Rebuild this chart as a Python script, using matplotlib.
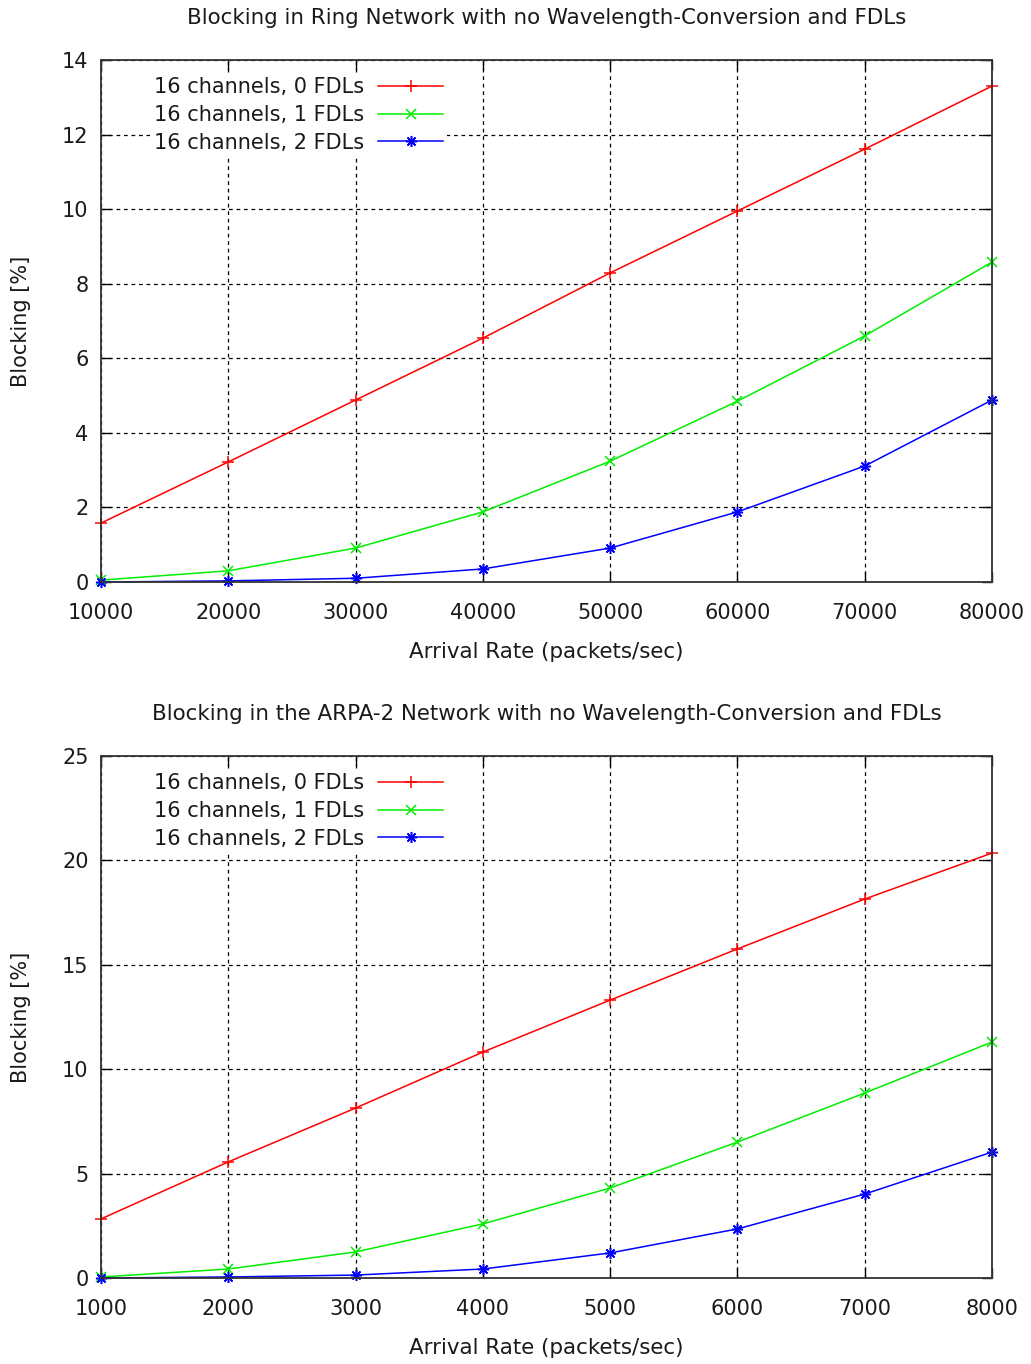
import matplotlib
matplotlib.use("Agg")
import matplotlib.pyplot as plt

plt.rcParams['font.family'] = ['DejaVu Sans']

# Top chart: Ring network
ring_x = [10000, 20000, 30000, 40000, 50000, 60000, 70000, 80000]
ring_0fdl = [1.58, 3.22, 4.88, 6.54, 8.29, 9.95, 11.61, 13.30]
ring_1fdl = [0.05, 0.30, 0.91, 1.88, 3.24, 4.85, 6.60, 8.58]
ring_2fdl = [0.00, 0.03, 0.10, 0.35, 0.91, 1.88, 3.11, 4.88]

# Bottom chart: ARPA-2 network
arpa_x = [1000, 2000, 3000, 4000, 5000, 6000, 7000, 8000]
arpa_0fdl = [2.83, 5.56, 8.14, 10.82, 13.31, 15.76, 18.15, 20.35]
arpa_1fdl = [0.05, 0.43, 1.25, 2.59, 4.31, 6.51, 8.86, 11.30]
arpa_2fdl = [0.00, 0.05, 0.14, 0.43, 1.20, 2.35, 4.02, 6.03]

labels = ["16 channels, 0 FDLs", "16 channels, 1 FDLs", "16 channels, 2 FDLs"]
titles = ["Blocking in Ring Network with no Wavelength-Conversion and FDLs",
          "Blocking in the ARPA-2 Network with no Wavelength-Conversion and FDLs"]

W, H = 1031, 1364
fig = plt.figure(figsize=(W / 100, H / 100), dpi=100)

FS = 15
TFS = 15.4
TXT = '#1a1a1a'

def make_axes(top_px, bottom_px):
    left, right = 101, 992
    return fig.add_axes([left / W, 1 - bottom_px / H, (right - left) / W, (bottom_px - top_px) / H])

specs = [
    (make_axes(60, 582), ring_x, [ring_0fdl, ring_1fdl, ring_2fdl], (0, 14), list(range(0, 15, 2)), titles[0], 60),
    (make_axes(756, 1278), arpa_x, [arpa_0fdl, arpa_1fdl, arpa_2fdl], (0, 25), list(range(0, 26, 5)), titles[1], 756),
]

colors = ['#ff0000', '#00ee00', '#0000ff']
markers = ['+', 'x', (8, 2, 0)]
msizes = [9, 7, 8]

for ax, xs, series, ylim, yticks, title, top_px in specs:
    for ys, c, m, ms, lab in zip(series, colors, markers, msizes, labels):
        ax.plot(xs, ys, color=c, marker=m, markersize=ms, markeredgewidth=1.1,
                linewidth=1.1, label=lab, zorder=3, clip_on=False)
    ax.set_xlim(xs[0], xs[-1])
    ax.set_ylim(*ylim)
    ax.set_xticks(xs)
    ax.set_yticks(yticks)
    ax.grid(True, color='black', linestyle=(0, (3, 3)), linewidth=0.9, zorder=1)
    ax.tick_params(direction='in', top=True, right=True, length=7, width=1.0,
                   labelsize=FS, colors='black', labelcolor=TXT, pad=9)
    ax.tick_params(axis='x', pad=15)
    for s in ax.spines.values():
        s.set_color('#333333')
        s.set_linewidth(1.3)
        s.set_zorder(4)
    ax.set_title(title, fontsize=TFS, color=TXT, pad=26)
    ax.set_xlabel("Arrival Rate (packets/sec)", fontsize=TFS, color=TXT, labelpad=14)
    ax.set_ylabel("Blocking [%]", fontsize=FS, color=TXT, labelpad=22)
    leg = ax.legend(loc='upper right', bbox_to_anchor=(447 / W, 1 - (top_px + 13) / H),
                    bbox_transform=fig.transFigure, markerfirst=False, frameon=True,
                    fancybox=False, edgecolor='none', facecolor='white', framealpha=1.0,
                    fontsize=FS, handlelength=3.1, handletextpad=0.67, labelspacing=0.37,
                    borderpad=0.2, borderaxespad=0)
    leg.set_zorder(5)
    for t in leg.get_texts():
        t.set_color(TXT)

fig.savefig("out.png", dpi=100)
